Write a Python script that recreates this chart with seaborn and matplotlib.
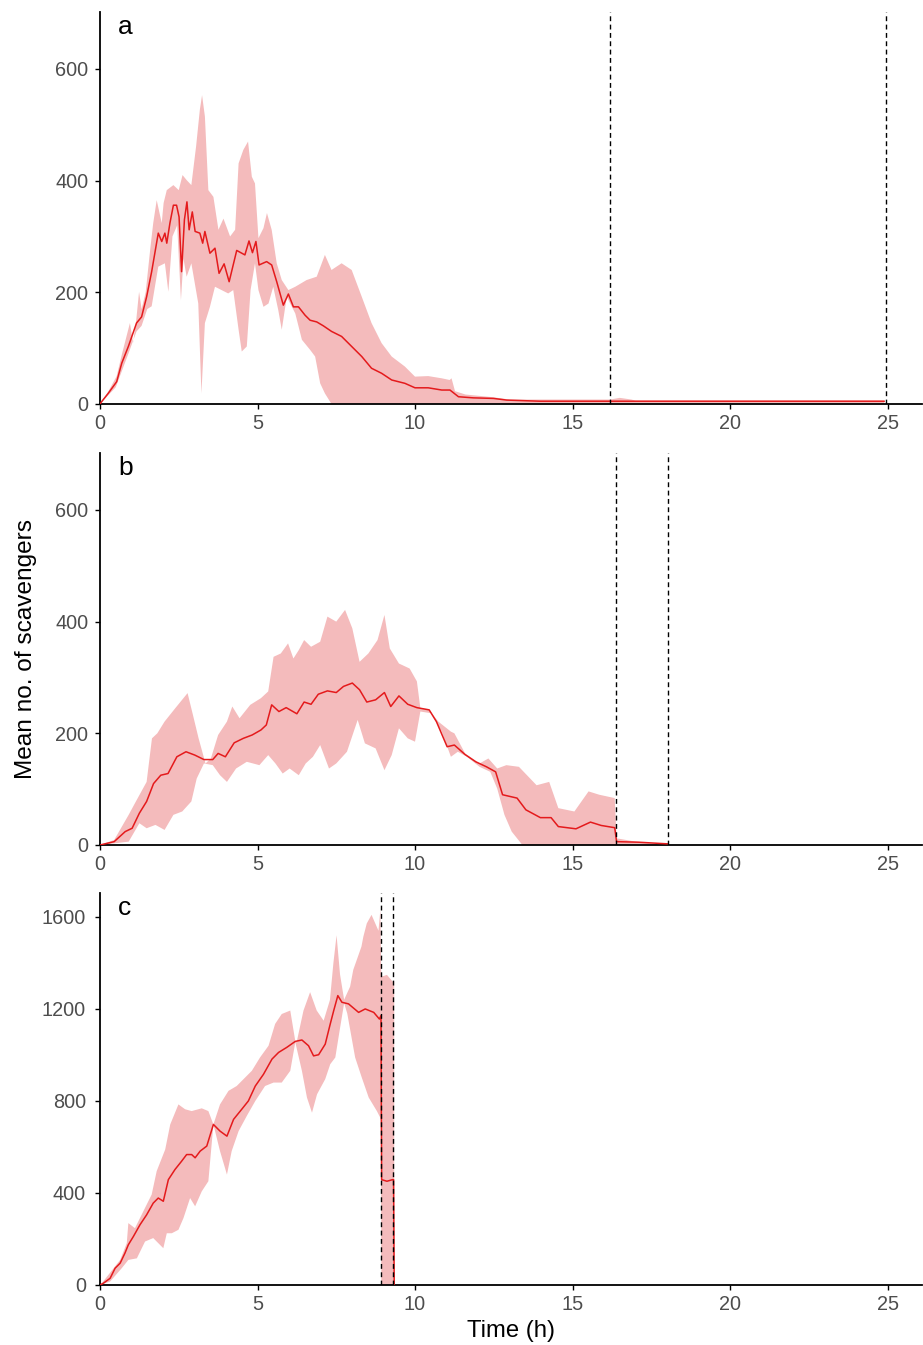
import numpy as np
import pandas as pd
import matplotlib
matplotlib.use("Agg")
import matplotlib.pyplot as plt
import seaborn as sns

# ---------------- data ----------------
# Panel a
a_t = [0, 0.05, 0.26, 0.53, 0.69, 0.90, 1.16, 1.32, 1.48, 1.64, 1.85, 1.96, 2.06, 2.12, 2.22, 2.33, 2.43,
       2.51, 2.59, 2.68, 2.76, 2.83, 2.93, 3.02, 3.17, 3.26, 3.33, 3.49, 3.65, 3.78, 3.94, 4.10, 4.34, 4.60,
       4.73, 4.84, 4.95, 5.05, 5.29, 5.45, 5.61, 5.82, 5.98, 6.14, 6.30, 6.51, 6.67, 6.88, 7.09, 7.35, 7.67,
       7.99, 8.31, 8.62, 8.94, 9.26, 9.68, 10.0, 10.42, 10.85, 11.11, 11.38, 11.85, 12.49, 12.91, 13.97,
       16.2, 17.0, 20.0, 24.9]
a_mean = [0, 4, 19, 40, 73, 103, 145, 156, 192, 237, 306, 291, 306, 288, 324, 356, 356,
          335, 237, 330, 362, 312, 344, 309, 306, 288, 309, 270, 279, 234, 251, 219, 275, 267,
          292, 271, 291, 249, 255, 249, 219, 177, 197, 174, 174, 159, 150, 147, 140, 130, 121,
          103, 85, 64, 55, 43, 37, 29, 29, 25, 25, 13, 11, 10, 7, 5,
          5, 5, 5, 5]
a_up_t = [0, 0.26, 0.53, 0.70, 0.95, 1.05, 1.15, 1.24, 1.32, 1.45, 1.60, 1.69, 1.80, 1.96, 2.02, 2.12, 2.33,
          2.50, 2.62, 2.75, 2.90, 3.05, 3.17, 3.24, 3.33, 3.44, 3.60, 3.76, 3.92, 4.13, 4.29, 4.40, 4.55,
          4.70, 4.82, 4.92, 5.03, 5.19, 5.30, 5.45, 5.61, 5.77, 5.98, 6.20, 6.56, 6.88, 7.14, 7.35, 7.67,
          7.99, 8.31, 8.62, 8.94, 9.26, 9.68, 10.0, 10.42, 10.85, 11.10, 11.16, 11.27, 11.60, 12.5, 13.0,
          16.2, 16.5, 16.87, 17.0, 24.9]
a_up = [0, 22, 50, 90, 145, 110, 150, 201, 170, 200, 280, 324, 365, 324, 360, 383, 392,
        383, 410, 401, 392, 461, 527, 553, 515, 383, 371, 312, 332, 300, 312, 431, 455,
        470, 407, 395, 297, 315, 342, 312, 252, 222, 204, 210, 222, 228, 267, 240, 252,
        240, 192, 145, 109, 85, 67, 49, 50, 46, 43, 46, 23, 17, 12, 8,
        8, 11, 8, 6, 6]
a_lo_t = [0, 0.50, 0.90, 1.16, 1.32, 1.50, 1.64, 1.85, 2.06, 2.17, 2.30, 2.45, 2.57, 2.65, 2.75, 2.90,
          3.12, 3.22, 3.33, 3.49, 3.65, 3.86, 4.07, 4.23, 4.40, 4.50, 4.66, 4.78, 4.92, 5.03, 5.19,
          5.35, 5.50, 5.66, 5.77, 5.93, 6.20, 6.41, 6.67, 6.83, 6.99, 7.14, 7.35, 24.9]
a_lo = [0, 30, 90, 130, 140, 170, 175, 246, 252, 201, 300, 320, 186, 260, 228, 252,
        180, 19, 145, 174, 210, 204, 198, 204, 133, 94, 103, 204, 252, 204, 174,
        180, 210, 168, 133, 192, 162, 115, 97, 85, 37, 19, 0, 0]
a_vlines = [16.2, 24.95]

# Panel b
b_t = [0, 0.45, 0.80, 1.02, 1.25, 1.48, 1.70, 1.93, 2.16, 2.44, 2.73, 3.01, 3.30, 3.58, 3.75, 3.98, 4.26,
       4.55, 4.83, 5.11, 5.28, 5.45, 5.68, 5.91, 6.25, 6.48, 6.70, 6.93, 7.22, 7.50, 7.73, 8.01, 8.24,
       8.47, 8.75, 9.03, 9.23, 9.49, 9.77, 10.06, 10.45, 10.68, 11.02, 11.25, 11.59, 11.93, 12.27,
       12.56, 12.78, 13.24, 13.52, 13.98, 14.32, 14.55, 15.11, 15.57, 15.91, 16.34, 16.40, 17.1, 18.03]
b_mean = [0, 6, 24, 30, 57, 78, 110, 125, 128, 158, 167, 161, 153, 153, 164, 158, 183,
          191, 197, 206, 215, 251, 239, 246, 235, 256, 252, 270, 276, 273, 284, 290, 278,
          256, 260, 273, 248, 267, 252, 246, 242, 221, 176, 179, 162, 149, 140,
          131, 90, 84, 63, 49, 49, 33, 29, 41, 35, 31, 6, 5, 2]
b_up_t = [0, 0.45, 0.91, 1.14, 1.48, 1.65, 1.82, 2.05, 2.39, 2.78, 2.95, 3.13, 3.35, 3.52, 3.75, 4.03,
          4.20, 4.43, 4.77, 5.11, 5.34, 5.51, 5.74, 5.97, 6.14, 6.31, 6.48, 6.70, 6.99, 7.22, 7.50,
          7.78, 8.01, 8.24, 8.52, 8.81, 9.03, 9.20, 9.49, 9.83, 10.06, 10.17, 10.45, 10.74, 11.14,
          11.25, 11.59, 12.05, 12.33, 12.61, 12.90, 13.30, 13.86, 14.26, 14.55, 15.06, 15.51, 15.85,
          16.34, 16.40, 17.0, 17.5, 18.03]
b_up = [0, 9, 54, 78, 113, 191, 200, 221, 245, 272, 233, 191, 146, 155, 197, 221,
        248, 227, 251, 263, 275, 337, 343, 361, 334, 349, 367, 355, 364, 409, 400,
        421, 388, 328, 343, 367, 412, 352, 325, 316, 293, 245, 242, 221, 203,
        200, 164, 146, 155, 137, 143, 140, 107, 113, 66, 60, 96, 90,
        84, 12, 6, 3, 1]
b_lo_t = [0, 0.91, 1.25, 1.48, 1.76, 2.05, 2.33, 2.61, 2.90, 3.07, 3.30, 3.58, 3.81, 4.03, 4.32, 4.66,
          5.06, 5.34, 5.57, 5.80, 6.02, 6.31, 6.53, 6.76, 6.99, 7.27, 7.50, 7.84, 8.18, 8.41, 8.75,
          9.03, 9.26, 9.49, 9.77, 10.0, 10.17, 10.51, 10.85, 11.14, 11.36, 11.65, 12.05, 12.39,
          12.61, 12.84, 13.07, 13.41, 18.03]
b_lo = [0, 6, 39, 30, 36, 27, 54, 60, 78, 119, 146, 143, 125, 113, 137, 149,
        143, 161, 146, 128, 137, 125, 146, 158, 179, 137, 146, 167, 224, 182, 173,
        134, 161, 209, 191, 185, 239, 236, 203, 158, 167, 158, 140, 131,
        101, 54, 24, 0, 0]
b_vlines = [16.38, 18.03]

# Panel c
c_t = [0, 0.10, 0.32, 0.48, 0.64, 0.79, 0.90, 1.06, 1.27, 1.48, 1.69, 1.85, 2.01, 2.17, 2.38, 2.59,
       2.75, 2.91, 3.02, 3.18, 3.39, 3.60, 3.81, 4.03, 4.24, 4.50, 4.71, 4.93, 5.19, 5.46, 5.67, 5.93,
       6.20, 6.41, 6.62, 6.78, 6.94, 7.15, 7.31, 7.42, 7.55, 7.68, 7.89, 8.21, 8.42, 8.69, 8.87, 8.92,
       8.94, 9.11, 9.29, 9.32, 9.34]
c_mean = [0, 7, 29, 73, 95, 138, 175, 211, 262, 305, 356, 378, 364, 458, 502, 538,
          567, 567, 553, 582, 604, 698, 669, 647, 720, 764, 800, 865, 916, 982, 1011, 1033,
          1059, 1065, 1040, 996, 1001, 1047, 1135, 1193, 1258, 1229, 1222, 1185, 1200, 1185, 1156, 1171,
          458, 451, 458, 458, 0]
c_up_t = [0, 0.10, 0.64, 0.85, 0.90, 1.11, 1.32, 1.64, 1.80, 2.07, 2.23, 2.49, 2.70, 2.91, 3.23, 3.44,
          3.60, 3.81, 4.08, 4.34, 4.71, 4.82, 5.08, 5.35, 5.56, 5.77, 6.04, 6.20, 6.25, 6.46, 6.67,
          6.88, 7.10, 7.30, 7.41, 7.51, 7.62, 7.75, 7.94, 8.04, 8.30, 8.36, 8.47, 8.62, 8.84, 8.90,
          8.93, 9.11, 9.29, 9.34]
c_up = [0, 15, 109, 182, 269, 247, 305, 393, 495, 589, 698, 785, 764, 756, 768, 756,
        698, 785, 844, 865, 916, 931, 989, 1040, 1135, 1178, 1193, 1060, 1060, 1193, 1273,
        1193, 1149, 1239, 1400, 1520, 1350, 1240, 1297, 1370, 1471, 1514, 1572, 1609, 1540, 1630,
        1340, 1348, 1319, 1319]
c_lo_t = [0, 0.32, 0.69, 0.90, 1.17, 1.43, 1.69, 1.85, 2.01, 2.12, 2.28, 2.49, 2.65, 2.86, 3.02, 3.23,
          3.44, 3.60, 3.81, 4.03, 4.18, 4.40, 4.66, 4.93, 5.24, 5.51, 5.77, 6.04, 6.20, 6.41, 6.57,
          6.73, 6.89, 7.15, 7.31, 7.47, 7.60, 7.75, 7.85, 8.10, 8.31, 8.53, 8.79, 8.90, 8.92, 8.93, 9.34]
c_lo = [0, 15, 73, 109, 116, 189, 204, 182, 160, 225, 225, 240, 291, 378, 342, 407,
        451, 698, 582, 480, 582, 669, 735, 800, 865, 880, 880, 931, 1055, 931, 815,
        749, 829, 895, 960, 989, 1100, 1225, 1180, 989, 902, 815, 756, 727, 700, 0, 0]
c_vlines = [8.92, 9.30]

panel_tags = ["a", "b", "c"]
x_ticks = [0, 5, 10, 15, 20, 25]
y_ticks_ab = [0, 200, 400, 600]
y_ticks_c = [0, 400, 800, 1200, 1600]
x_label = "Time (h)"
y_label = "Mean no. of scavengers"

# ---------------- style ----------------
sns.set_style("ticks")
plt.rcParams["font.family"] = ["Liberation Sans", "DejaVu Sans"]

LINE = "#E41A1C"
FILL = "#F4BBBC"
TICKCOL = "#4D4D4D"

W, H = 923, 1345
fig = plt.figure(figsize=(W / 100, H / 100), dpi=100)

left_px, right_px = 100, 922
panels = [
    (12, 404, a_t, a_mean, a_up_t, a_up, a_lo_t, a_lo, a_vlines, (0, 702), y_ticks_ab, 5.0),
    (453, 845, b_t, b_mean, b_up_t, b_up, b_lo_t, b_lo, b_vlines, (0, 702), y_ticks_ab, 5.0),
    (893, 1285, c_t, c_mean, c_up_t, c_up, c_lo_t, c_lo, c_vlines, (0, 1704), y_ticks_c, 6.5),
]

axes = []
for i, (top, bot, t, m, ut, u, lt, lo, vl, ylim, yt, ypad) in enumerate(panels):
    ax = fig.add_axes([left_px / W, 1 - bot / H, (right_px - left_px) / W, (bot - top) / H])
    axes.append(ax)
    poly_x = np.r_[np.array(ut, float), np.array(lt, float)[::-1]]
    poly_y = np.r_[np.array(u, float), np.array(lo, float)[::-1]]
    ax.fill(poly_x, poly_y, color=FILL, lw=0, zorder=1)
    df = pd.DataFrame({"t": t, "v": m})
    sns.lineplot(data=df, x="t", y="v", ax=ax, color=LINE, lw=1.1, estimator=None,
                 sort=False, zorder=3)
    for v in vl:
        ax.axvline(v, color="black", lw=1.0, ls=(0, (3.5, 2.5)), zorder=4)
    ax.set_xlim(0, (right_px - left_px) / 31.5)
    ax.set_ylim(*ylim)
    ax.set_xticks(x_ticks)
    ax.set_yticks(yt)
    ax.set_xticklabels([str(x) for x in x_ticks])
    ax.set_yticklabels([str(y) for y in yt])
    sns.despine(ax=ax)
    for s in ["left", "bottom"]:
        ax.spines[s].set_linewidth(1.3)
        ax.spines[s].set_color("black")
    ax.tick_params(axis="both", length=3.5, width=1.0, color="black",
                   labelsize=14.3, labelcolor=TICKCOL)
    ax.tick_params(axis="x", pad=4.0)
    ax.tick_params(axis="y", pad=ypad)
    ax.set_xlabel("")
    ax.set_ylabel("")
    ax.text(0.022, 1 - 22 / (bot - top), panel_tags[i], transform=ax.transAxes,
            ha="left", va="baseline", fontsize=19, color="black")

axes[2].set_xlabel(x_label, fontsize=17.2, color="black", labelpad=4)
fig.text(26 / W, 1 - 649 / H, y_label, rotation=90, ha="center", va="center",
         fontsize=17.6, color="black")

fig.savefig("out.png", dpi=100)
